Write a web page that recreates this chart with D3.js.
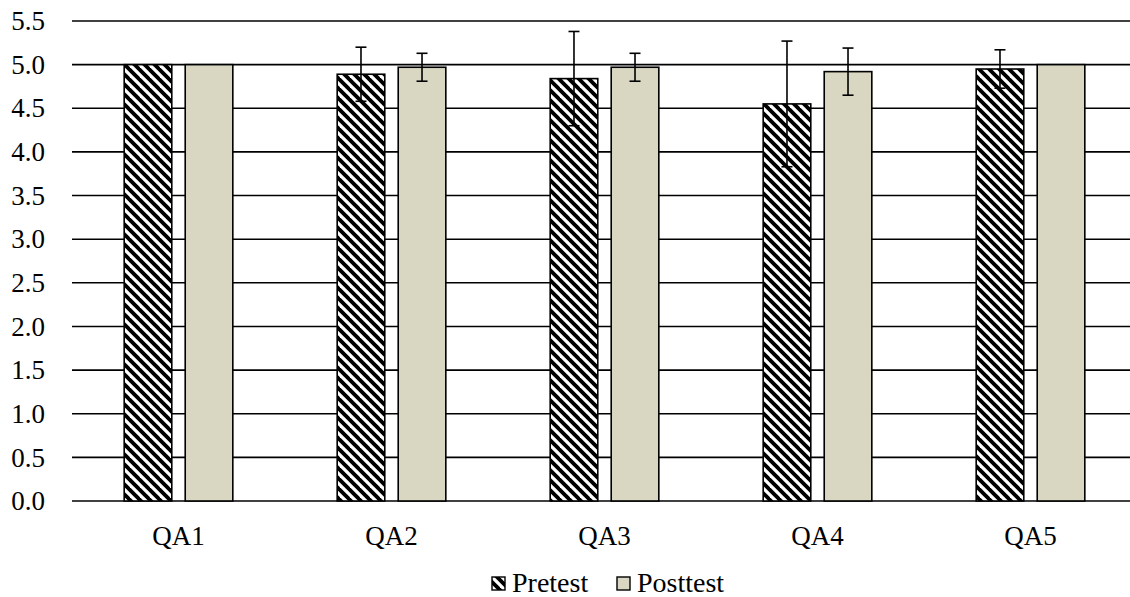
<!DOCTYPE html>
<html>
<head>
<meta charset="utf-8">
<script src="https://cdn.jsdelivr.net/npm/d3@7"></script>
<style>
  body { margin: 0; background: #fff; }
</style>
</head>
<body>
<svg id="chart" width="1130" height="597"></svg>
<script>
let categories = ["QA1", "QA2", "QA3", "QA4", "QA5"]
let series = ["Pretest", "Posttest"]
let pretest = [5.0, 4.89, 4.84, 4.55, 4.95]
let pretestErr = [0, 0.31, 0.54, 0.72, 0.22]
let posttest = [5.0, 4.97, 4.97, 4.92, 5.0]
let posttestErr = [0, 0.16, 0.16, 0.27, 0]
let yTicks = [0, 0.5, 1, 1.5, 2, 2.5, 3, 3.5, 4, 4.5, 5, 5.5]

let margin = {top: 21, right: -7, bottom: 96, left: 72}
let width = 1130, height = 597
let font = "'Liberation Serif', 'Times New Roman', Times, serif"

let svg = d3.select("#chart")

// hatch for pretest
let defs = svg.append("defs")
let pat = defs.append("pattern")
  .attr("id", "hatch")
  .attr("patternUnits", "userSpaceOnUse")
  .attr("width", 10)
  .attr("height", 10)
pat.append("rect").attr("width", 10).attr("height", 10).attr("fill", "#fff")
pat.selectAll("line")
  .data([[-5, 5, 5, 15], [0, 0, 10, 10], [5, -5, 15, 5]]).enter()
  .append("line")
  .attr("x1", d => d[0]).attr("y1", d => d[1])
  .attr("x2", d => d[2]).attr("y2", d => d[3])
  .attr("stroke", "#000")
  .attr("stroke-width", 3.8)

let scales = {
  x: d3.scaleBand()
    .domain(categories)
    .range([margin.left, width - margin.right])
    .paddingInner(0.49)
    .paddingOuter(0.245),
  y: d3.scaleLinear()
    .domain([0, 5.5])
    .range([height - margin.bottom, margin.top]),
  fill: {Pretest: "url(#hatch)", Posttest: "#d9d7c1"}
}
scales.x1 = d3.scaleBand()
  .domain(series)
  .range([0, scales.x.bandwidth()])
  .paddingInner(0.22)

// gridlines
svg.append("g")
  .selectAll("line")
  .data(yTicks).enter()
  .append("line")
  .attr("x1", margin.left)
  .attr("x2", width)
  .attr("y1", d => scales.y(d))
  .attr("y2", d => scales.y(d))
  .attr("stroke", "#000")
  .attr("stroke-width", 1.6)

// y tick labels
svg.append("g")
  .selectAll("text")
  .data(yTicks).enter()
  .append("text")
  .attr("x", 45)
  .attr("y", d => scales.y(d))
  .attr("dy", "0.34em")
  .attr("text-anchor", "end")
  .style("font-family", font)
  .style("font-size", "27px")
  .text(d => d3.format(".1f")(d))

let rows = []
categories.forEach((c, i) => {
  rows.push({cat: c, s: "Pretest", v: pretest[i], e: pretestErr[i]})
  rows.push({cat: c, s: "Posttest", v: posttest[i], e: posttestErr[i]})
})

svg.append("g")
  .selectAll("rect")
  .data(rows).enter()
  .append("rect")
  .attr("x", d => scales.x(d.cat) + scales.x1(d.s))
  .attr("y", d => scales.y(d.v))
  .attr("width", scales.x1.bandwidth())
  .attr("height", d => scales.y(0) - scales.y(d.v))
  .attr("fill", d => scales.fill[d.s])
  .attr("stroke", "#000")
  .attr("stroke-width", 1.6)

// error bars
let errs = svg.append("g")
  .selectAll("g")
  .data(rows.filter(d => d.e > 0)).enter()
  .append("g")
  .attr("transform", d => `translate(${scales.x(d.cat) + scales.x1(d.s) + scales.x1.bandwidth() / 2},0)`)
  .attr("stroke", "#000")
  .attr("stroke-width", 1.6)
errs.append("line")
  .attr("y1", d => scales.y(d.v + d.e))
  .attr("y2", d => scales.y(d.v - d.e))
errs.append("line")
  .attr("x1", -5.5).attr("x2", 5.5)
  .attr("y1", d => scales.y(d.v + d.e))
  .attr("y2", d => scales.y(d.v + d.e))
errs.append("line")
  .attr("x1", -5.5).attr("x2", 5.5)
  .attr("y1", d => scales.y(d.v - d.e))
  .attr("y2", d => scales.y(d.v - d.e))

// category labels
svg.append("g")
  .selectAll("text")
  .data(categories).enter()
  .append("text")
  .attr("x", d => scales.x(d) + scales.x.bandwidth() / 2)
  .attr("y", 545)
  .attr("text-anchor", "middle")
  .style("font-family", font)
  .style("font-size", "27px")
  .text(d => d)

// legend
let legend = svg.append("g")
let legX = [492, 617]
series.forEach((s, i) => {
  legend.append("rect")
    .attr("x", legX[i])
    .attr("y", 577)
    .attr("width", 13)
    .attr("height", 13)
    .attr("fill", scales.fill[s])
    .attr("stroke", "#000")
    .attr("stroke-width", 1.4)
  legend.append("text")
    .attr("x", legX[i] + 20)
    .attr("y", 592)
    .style("font-family", font)
    .style("font-size", "28px")
    .text(s)
})
</script>
</body>
</html>
